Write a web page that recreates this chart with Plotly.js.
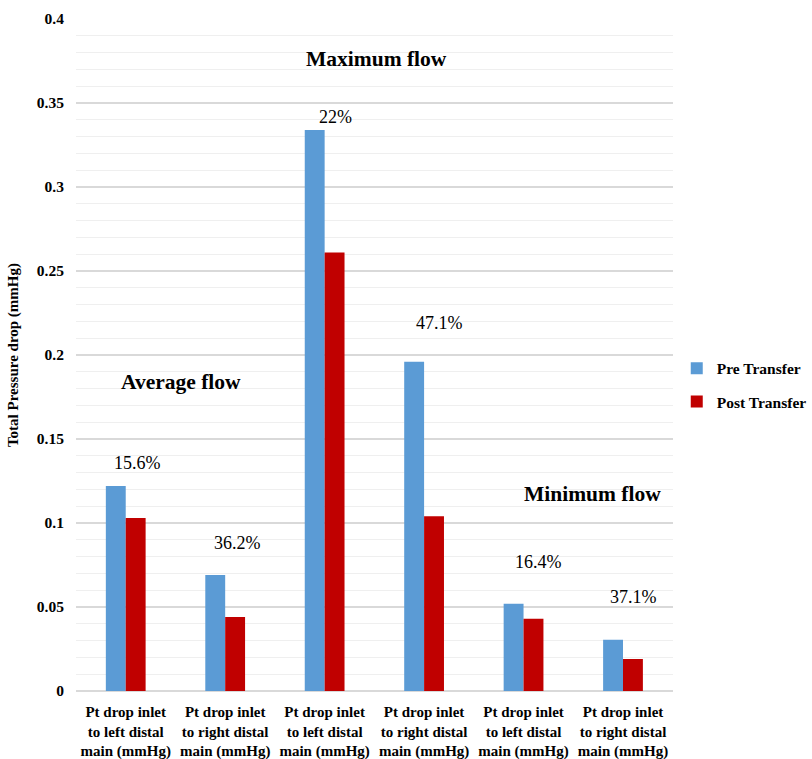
<!DOCTYPE html>
<html>
<head>
<meta charset="utf-8">
<script src="https://cdn.plot.ly/plotly-3.0.1.min.js"></script>
<style>html,body{margin:0;padding:0;background:#fff;}</style>
</head>
<body>
<div id="chart" style="width:812px;height:759px;"></div>
<script>
const categories = [
  "Pt drop inlet<br>to left distal<br>main (mmHg)",
  "Pt drop inlet<br>to right distal<br>main (mmHg)",
  "Pt drop inlet<br>to left distal<br>main (mmHg)",
  "Pt drop inlet<br>to right distal<br>main (mmHg)",
  "Pt drop inlet<br>to left distal<br>main (mmHg)",
  "Pt drop inlet<br>to right distal<br>main (mmHg)"
];
const preTransfer = [0.122, 0.069, 0.334, 0.196, 0.052, 0.0305];
const postTransfer = [0.103, 0.044, 0.261, 0.104, 0.043, 0.019];
const percentLabels = ["15.6%", "36.2%", "22%", "47.1%", "16.4%", "37.1%"];
const flowLabels = ["Average flow", "Maximum flow", "Minimum flow"];
const yTickVals = [0, 0.05, 0.1, 0.15, 0.2, 0.25, 0.3, 0.35, 0.4];
const yTickText = ["0", "0.05", "0.1", "0.15", "0.2", "0.25", "0.3", "0.35", "0.4"];

const idx = categories.map((_, i) => i);
const serif = "Liberation Serif";

// label positions (layout only)
const pctPos = [[0.12, 0.1357], [1.12, 0.088], [2.11, 0.3417], [3.15, 0.219], [4.15, 0.0768], [5.11, 0.056]];
const flowPos = [[0.56, 0.184], [2.52, 0.376], [4.69, 0.117]];

const traces = [
  {type: "bar", name: "<b>Pre Transfer</b>", x: idx, y: preTransfer,
   marker: {color: "#5b9bd5"}, legendgroup: "a"},
  {type: "bar", name: "<b>Post Transfer</b>", x: idx, y: postTransfer,
   marker: {color: "#c00000"}, legendgroup: "b"}
];

const annotations = [];
percentLabels.forEach((t, i) => annotations.push({
  x: pctPos[i][0], y: pctPos[i][1], xref: "x", yref: "y", text: t, showarrow: false,
  font: {family: serif, size: 18, color: "#000"}
}));
flowLabels.forEach((t, i) => annotations.push({
  x: flowPos[i][0], y: flowPos[i][1], xref: "x", yref: "y", text: "<b>" + t + "</b>", showarrow: false,
  font: {family: serif, size: 21.5, color: "#000"}
}));

const layout = {
  width: 812, height: 759,
  margin: {l: 76, r: 0, t: 19, b: 68},
  paper_bgcolor: "#fff", plot_bgcolor: "#fff",
  barmode: "group", bargap: 0.6, bargroupgap: 0,
  font: {family: serif, color: "#000"},
  xaxis: {
    domain: [0, 0.8152],
    range: [-0.5, 5.5], tickvals: idx, ticktext: categories.map(c => "<b>" + c + "</b>"),
    tickfont: {family: serif, size: 15, color: "#000"},
    showgrid: false, zeroline: false, showline: false,
    ticks: "outside", ticklen: 7, tickcolor: "rgba(0,0,0,0)", fixedrange: true
  },
  yaxis: {
    range: [0, 0.4],
    tickvals: yTickVals,
    ticktext: yTickText.map(t => "<b>" + t + "</b>"),
    tickfont: {family: serif, size: 15.5, color: "#000"},
    showgrid: true, gridcolor: "#d9d9d9", gridwidth: 1.2,
    zeroline: true, zerolinecolor: "#d9d9d9", zerolinewidth: 1.2,
    minor: {dtick: 0.01, showgrid: true, gridcolor: "#efefef", gridwidth: 1, ticks: ""},
    ticks: "outside", ticklen: 8, tickcolor: "rgba(0,0,0,0)",
    title: {text: "<b>Total Pressure drop (mmHg)</b>", font: {family: serif, size: 15, color: "#000"}, standoff: 14},
    showline: false
  },
  legend: {
    x: 0.8207, xanchor: "left", y: 0.455, yanchor: "middle",
    font: {family: serif, size: 15.5, color: "#000"},
    tracegroupgap: 10, traceorder: "grouped", itemwidth: 30
  },
  showlegend: true,
  annotations: annotations
};

Plotly.newPlot("chart", traces, layout, {displayModeBar: false, staticPlot: true});
</script>
</body>
</html>
